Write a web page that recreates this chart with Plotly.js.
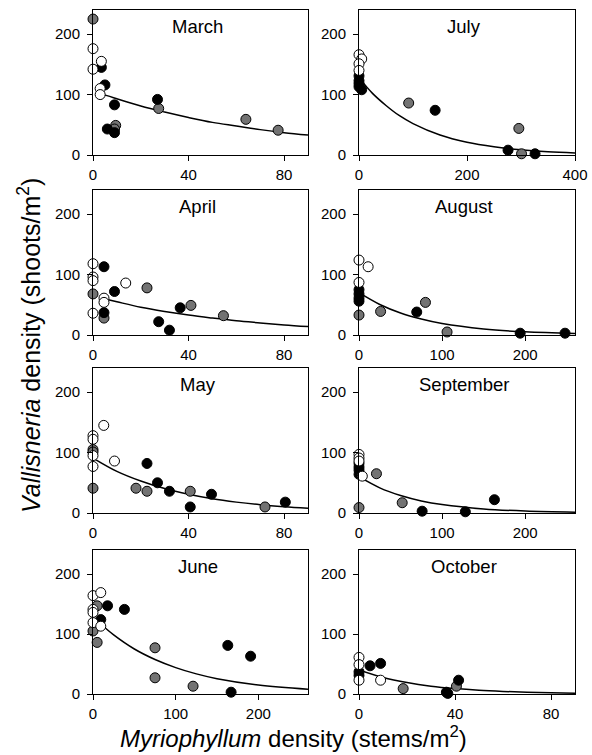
<!DOCTYPE html>
<html>
<head>
<meta charset="utf-8">
<script src="https://cdn.plot.ly/plotly-3.0.1.min.js"></script>
<style>html,body{margin:0;padding:0;background:#fff;}#chart{width:592px;height:755px;}</style>
</head>
<body>
<div id="chart"></div>
<script>
// ---- Data ----
const months = ["March","July","April","August","May","September","June","October"];

const march_white_x = [0,0,3.5,3,3];           const march_white_y = [176,142,155,110,100];
const march_black_x = [3.5,5,9,6,9,27];        const march_black_y = [145,116,83,43,37,92];
const march_gray_x  = [0,9.5,9,27.5,64,77.5];  const march_gray_y  = [225,49,43,77,59,41];
const march_fit_x = [3,10,20,30,40,50,60,70,80,90];
const march_fit_y = [102,93,81,71,62,54,48,42,37,33];

const july_white_x = [0,5,0,0];                const july_white_y = [166,159,151,140];
const july_black_x = [0,0,0,5,0,141,276,326];  const july_black_y = [131,123,113,108,118,74,8,2];
const july_gray_x  = [92,296,301];             const july_gray_y  = [86,44,2];
const july_fit_x = [0,25,50,75,100,150,200,250,300,350,400];
const july_fit_y = [128,102,82,65,52,33,21,13.5,8.6,5.5,3.5];

const april_white_x = [0,0,0,0,4.6,4.6,13.7]; const april_white_y = [118,96,90,36,61,54,86];
const april_black_x = [4.6,4.6,9,27.5,32,36.5]; const april_black_y = [113,37,72,22,8,45];
const april_gray_x  = [0,4.6,22.6,41,54.6];    const april_gray_y  = [68,28,78,49,32];
const april_fit_x = [4.6,10,20,30,40,50,60,70,80,90];
const april_fit_y = [60,55,46,39,33,28,23.5,20,16.7,14];

const august_white_x = [0,11,0];               const august_white_y = [124,113,87];
const august_black_x = [0,0,0,0,69.5,194,248]; const august_black_y = [75,68,61,56,38,3,3];
const august_gray_x  = [0,26,80,106];          const august_gray_y  = [33,39,54,5];
const august_fit_x = [0,25,50,75,100,150,200,260];
const august_fit_y = [70,50.5,36.5,26.5,19,10,5.2,2.4];

const may_white_x = [0,0,0,0,4.5,9];           const may_white_y = [128,122,95,77,145,86];
const may_black_x = [22.6,27,32,40.7,49.6,80.5]; const may_black_y = [82,50,36,10,31,18];
const may_gray_x  = [0,0,0,18,22.6,40.7,72];   const may_gray_y  = [105,101,41,41,36,36,10];
const may_fit_x = [0,10,20,30,40,50,60,70,80,90];
const may_fit_y = [91,69,53,40.5,31,23.5,18,13.7,10.5,8];

const sept_white_x = [0,0,0,4];                const sept_white_y = [97,91,86,61];
const sept_black_x = [0,0,0,0,76,128,163];     const sept_black_y = [82,76,71,64,3,2,22];
const sept_gray_x  = [0,21,52];                const sept_gray_y  = [9,65,17];
const sept_fit_x = [0,25,50,75,100,150,200,260];
const sept_fit_y = [60,41.6,28.9,20,13.9,6.7,3.2,1.3];

const june_white_x = [0,9.4,0,0,0,9.4];        const june_white_y = [164,169,141,136,119,113];
const june_black_x = [17.6,38,9.4,167,163,190.6]; const june_black_y = [147,141,124,3,81,63];
const june_gray_x  = [5,0,5,75,75,121];        const june_gray_y  = [147,105,86,77,27,13];
const june_fit_x = [9,25,50,75,100,125,150,200,260];
const june_fit_y = [117,98.5,75,57.5,44,33.5,25.5,15,8];

const oct_white_x = [0,0,0,9];                 const oct_white_y = [61,49,23,23];
const oct_black_x = [0,0,4.6,9,36.4,37,41.5];  const oct_black_y = [37,31,47,51,3,1,23];
const oct_gray_x  = [18.4,40.6];               const oct_gray_y  = [9,13];
const oct_fit_x = [0,10,20,30,40,50,60,70,80,90];
const oct_fit_y = [40,27.5,19,13,9,6.2,4.3,2.9,2,1.4];

const xRanges = [[0,90],[0,400],[0,90],[0,260],[0,90],[0,260],[0,260],[0,90]];
const xTicks  = [[0,40,80],[0,200,400],[0,40,80],[0,100,200],[0,40,80],[0,100,200],[0,100,200],[0,40,80]];
const yTicks  = [0,100,200];

const panels = [
  [march_white_x,march_white_y,march_black_x,march_black_y,march_gray_x,march_gray_y,march_fit_x,march_fit_y],
  [july_white_x,july_white_y,july_black_x,july_black_y,july_gray_x,july_gray_y,july_fit_x,july_fit_y],
  [april_white_x,april_white_y,april_black_x,april_black_y,april_gray_x,april_gray_y,april_fit_x,april_fit_y],
  [august_white_x,august_white_y,august_black_x,august_black_y,august_gray_x,august_gray_y,august_fit_x,august_fit_y],
  [may_white_x,may_white_y,may_black_x,may_black_y,may_gray_x,may_gray_y,may_fit_x,may_fit_y],
  [sept_white_x,sept_white_y,sept_black_x,sept_black_y,sept_gray_x,sept_gray_y,sept_fit_x,sept_fit_y],
  [june_white_x,june_white_y,june_black_x,june_black_y,june_gray_x,june_gray_y,june_fit_x,june_fit_y],
  [oct_white_x,oct_white_y,oct_black_x,oct_black_y,oct_gray_x,oct_gray_y,oct_fit_x,oct_fit_y]
];

// ---- Layout geometry (pixels) ----
const W = 592, H = 755;
const colPx = [[93,308],[359,575]];
const rowPx = [[10,155],[190,335],[368,513],[550,694]];
const FONT = "Liberation Sans, Arial, Helvetica, sans-serif";

const traces = [];
const layout = {
  width: W, height: H,
  margin: {l:0,r:0,t:0,b:0},
  paper_bgcolor: "#fff", plot_bgcolor: "#fff",
  showlegend: false,
  font: {family: FONT, size: 15, color: "#000"},
  annotations: []
};

const mk = (fill) => ({size: 10, color: fill, line: {color: "#000", width: 1}});

panels.forEach((p, i) => {
  const n = i + 1;
  const xa = "x" + (n === 1 ? "" : n), ya = "y" + (n === 1 ? "" : n);
  const col = i % 2, row = Math.floor(i / 2);
  const common = {xaxis: xa, yaxis: ya, cliponaxis: false, hoverinfo: "skip"};
  traces.push(Object.assign({x: p[6], y: p[7], mode: "lines", type: "scatter",
    line: {color: "#000", width: 1.5, shape: "spline", smoothing: 1}}, common));
  traces.push(Object.assign({x: p[4], y: p[5], mode: "markers", type: "scatter", marker: mk("#737373")}, common));
  traces.push(Object.assign({x: p[2], y: p[3], mode: "markers", type: "scatter", marker: mk("#000")}, common));
  traces.push(Object.assign({x: p[0], y: p[1], mode: "markers", type: "scatter", marker: mk("#fff")}, common));

  const xd = [colPx[col][0] / W, colPx[col][1] / W];
  const yd = [1 - rowPx[row][1] / H, 1 - rowPx[row][0] / H];
  const axBase = {showline: true, mirror: true, linecolor: "#000", linewidth: 1,
    ticks: "outside", ticklen: 5, tickcolor: "#000", tickwidth: 1,
    showgrid: false, zeroline: false, fixedrange: true,
    tickfont: {family: FONT, size: 15, color: "#000"}};
  layout["xaxis" + (n === 1 ? "" : n)] = Object.assign({}, axBase, {
    domain: xd, range: xRanges[i], tickvals: xTicks[i], anchor: ya, ticklabelstandoff: 1});
  layout["yaxis" + (n === 1 ? "" : n)] = Object.assign({}, axBase, {
    domain: yd, range: [0, 240], tickvals: yTicks, anchor: xa, ticklabelstandoff: 4});

  layout.annotations.push({
    xref: "paper", yref: "paper",
    x: ((colPx[col][0] + colPx[col][1]) / 2 - 3) / W,
    y: 1 - (rowPx[row][0] + 16) / H,
    text: months[i], showarrow: false, xanchor: "center", yanchor: "middle",
    font: {family: FONT, size: 18.5, color: "#000"}
  });
});

layout.annotations.push({
  xref: "paper", yref: "paper", x: 293 / W, y: 1 - 737 / H,
  text: "<i>Myriophyllum</i> density (stems/m<sup>2</sup>)", showarrow: false,
  xanchor: "center", yanchor: "middle", font: {family: FONT, size: 24, color: "#000"}
});
layout.annotations.push({
  xref: "paper", yref: "paper", x: 29 / W, y: 1 - 346 / H,
  text: "<i>Vallisneria</i> density (shoots/m<sup>2</sup>)", showarrow: false, textangle: -90,
  xanchor: "center", yanchor: "middle", font: {family: FONT, size: 25, color: "#000"}
});

Plotly.newPlot("chart", traces, layout, {staticPlot: true, displayModeBar: false});
</script>
</body>
</html>
